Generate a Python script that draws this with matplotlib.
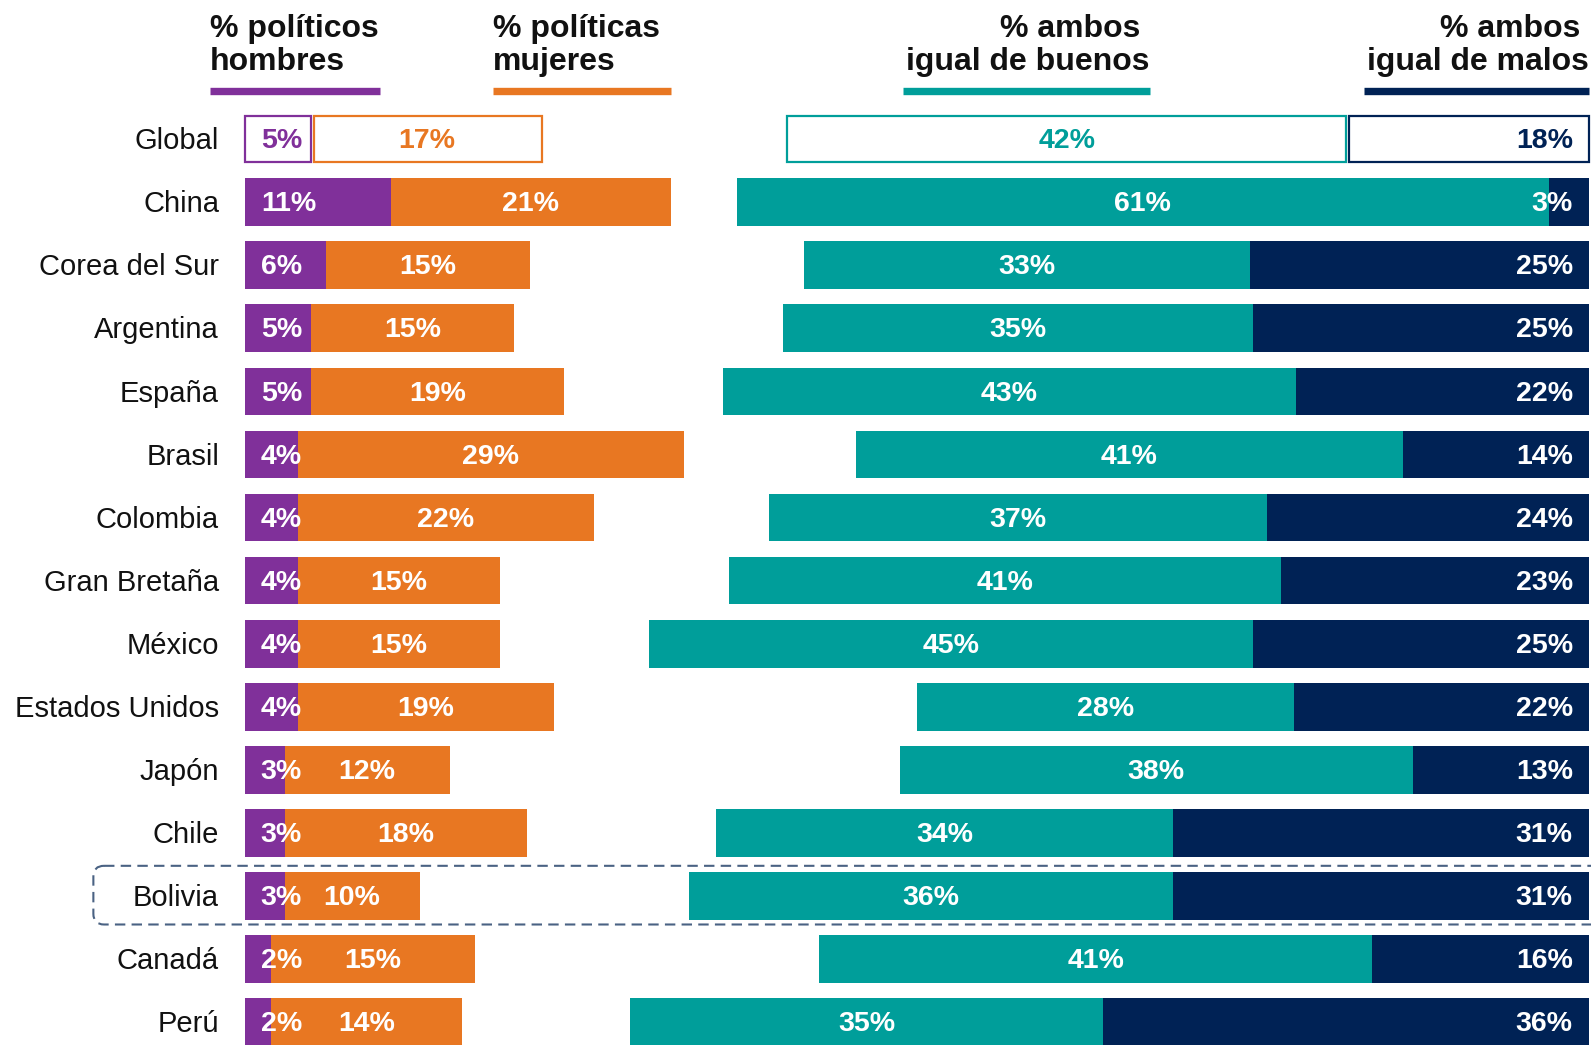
import matplotlib
matplotlib.use("Agg")
import matplotlib.pyplot as plt
from matplotlib.patches import FancyBboxPatch

plt.rcParams['font.family'] = ['Liberation Sans', 'DejaVu Sans']

countries = ["Global", "China", "Corea del Sur", "Argentina", "España", "Brasil",
             "Colombia", "Gran Bretaña", "México", "Estados Unidos", "Japón",
             "Chile", "Bolivia", "Canadá", "Perú"]
men = [5, 11, 6.1, 5, 5, 4, 4, 4, 4, 4, 3, 3, 3, 2, 2]
women = [17.3, 21, 15.3, 15.2, 19, 29, 22.2, 15.2, 15.2, 19.2, 12.4, 18.2, 10.15, 15.3, 14.3]
both_good = [42.1, 61, 33.49, 35.3, 43, 41, 37.4, 41.43, 45.4, 28.3, 38.49, 34.35, 36.4, 41.49, 35.49]
both_bad = [18.1, 3, 25.44, 25.2, 22, 14, 24.15, 23.15, 25.2, 22.15, 13.25, 31.2, 31.2, 16.3, 36.49]

headers = ["% políticos\nhombres", "% políticas\nmujeres",
           "% ambos \nigual de buenos", "% ambos \nigual de malos"]

PURPLE = "#80309A"
ORANGE = "#E87722"
TEAL = "#009E9A"
NAVY = "#002255"
BOXC = "#4A6283"

R_END = 100.94
H = 0.755
DY = 0.035  # visual centring nudge for text

fig = plt.figure(figsize=(15.91, 10.45), dpi=100)
ax = fig.add_axes([0, 0, 1, 1])
ax.set_xlim(-18.36, 101.09)
ax.set_ylim(14.36, -2.203)
ax.axis("off")


def pct(v):
    return f"{int(round(v))}%"


for i, c in enumerate(countries):
    m, w, g, b = men[i], women[i], both_good[i], both_bad[i]
    rstart = R_END - (g + b)
    ax.text(-1.91, i + DY, c, ha="right", va="center", fontsize=21, color="#111111")
    if i == 0:
        gap = 0.22
        lw = 1.6
        segs = [(0, m, PURPLE), (m + gap, w - gap, ORANGE),
                (rstart, g - gap / 2, TEAL), (rstart + g + gap / 2, b - gap / 2, NAVY)]
        for left, wd, col in segs:
            ax.barh(i, wd, left=left, height=H - 0.02,
                    color="white", edgecolor=col, linewidth=lw)
        lc = [PURPLE, ORANGE, TEAL, NAVY]
    else:
        ax.barh(i, m, left=0, height=H, color=PURPLE)
        ax.barh(i, w, left=m, height=H, color=ORANGE)
        ax.barh(i, g, left=rstart, height=H, color=TEAL)
        ax.barh(i, b, left=rstart + g, height=H, color=NAVY)
        lc = ["white"] * 4
    kw = dict(va="center", fontsize=20.5, fontweight="bold")
    y = i + DY
    ax.text(1.22, y, pct(m), ha="left", color=lc[0], **kw)
    ax.text(m + w / 2, y, pct(w), ha="center", color=lc[1], **kw)
    ax.text(rstart + g / 2, y, pct(g), ha="center", color=lc[2], **kw)
    ax.text(R_END - 1.22, y, pct(b), ha="right", color=lc[3], **kw)

# header underlines and texts
lines = [(-2.59, 10.14, PURPLE), (18.66, 31.99, ORANGE), (49.44, 67.95, TEAL), (84.02, R_END, NAVY)]
for (x0, x1, col) in lines:
    ax.plot([x0, x1], [-0.761, -0.761], color=col, linewidth=5.3, solid_capstyle="butt")
hk = dict(va="baseline", fontsize=23, fontweight="bold", color="#111111", linespacing=1.12)
HY = -1.093
ax.text(-2.59, HY, headers[0], ha="left", multialignment="left", **hk)
ax.text(18.66, HY, headers[1], ha="left", multialignment="left", **hk)
ax.text(67.95, HY, headers[2], ha="right", multialignment="right", **hk)
ax.text(R_END, HY, headers[3], ha="right", multialignment="right", **hk)

# Bolivia highlight box
r = 0.8
box = FancyBboxPatch((-11.35, 11.52), 114, 0.93,
                     boxstyle=f"round,pad=0,rounding_size={r}",
                     mutation_aspect=13.32 / 63.1,
                     fill=False, edgecolor=BOXC, linewidth=1.5,
                     linestyle=(0, (5, 3)), zorder=5)
ax.add_patch(box)

fig.savefig("out.png", dpi=100)
